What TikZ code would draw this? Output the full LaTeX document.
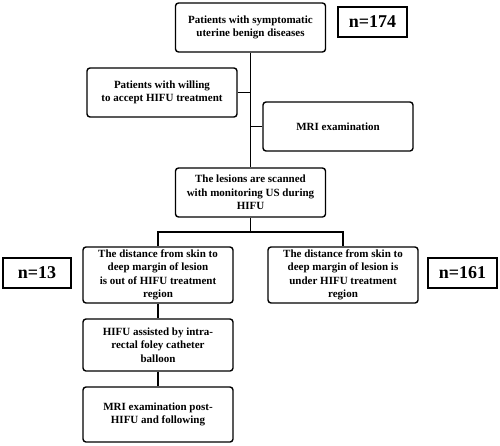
\documentclass[tikz,border=0pt]{standalone}
\usepackage{fontspec}
\setmainfont{Liberation Serif}
\begin{document}
\begin{tikzpicture}[x=1pt,y=-1pt,
  box/.style={draw, line width=1.4pt, rounded corners=3pt, minimum width=150pt, inner sep=1pt, align=center, font=\bfseries\fontsize{11}{13.5}\selectfont},
  nbox/.style={draw, line width=1.4pt, inner sep=0pt, font=\bfseries\fontsize{18}{20}\selectfont},
  link/.style={line width=1.4pt}]
\useasboundingbox (0,0) rectangle (500,445);
\node[box, minimum height=49pt] (b1) at (250.5,27.5) {Patients with symptomatic\\uterine benign diseases};
\node[nbox, minimum width=69pt, minimum height=30pt] (n174) at (372.5,22) {n=174};
\node[box, minimum height=49pt] (b2) at (162,92.5) {Patients with willing\\to accept HIFU treatment};
\node[box, minimum height=49pt] (mri) at (338,126.5) {MRI examination};
\node[box, minimum height=49pt] (les) at (250.5,192.5) {The lesions are scanned\\with monitoring US during\\HIFU};
\node[box, minimum height=56pt] (left) at (158,275) {The distance from skin to\\deep margin of lesion\\is out of HIFU treatment\\region};
\node[box, minimum height=56pt] (right) at (343,275) {The distance from skin to\\deep margin of lesion is\\under HIFU treatment\\region};
\node[nbox, minimum width=68pt, minimum height=30pt] (n13) at (37,273) {n=13};
\node[nbox, minimum width=69pt, minimum height=30pt] (n161) at (462.5,273) {n=161};
\node[box, minimum height=52pt] (hifu) at (158,345) {HIFU assisted by intra-\\rectal foley catheter\\balloon};
\node[box, minimum height=55pt] (post) at (158,414.5) {MRI examination post-\\HIFU and following};
\coordinate (split) at (250.5,232);
\draw[link] (b1.south) -- (les.north);
\draw[link] (b2.east) -- (b2.east -| b1.south);
\draw[link] (mri.west) -- (mri.west -| b1.south);
\draw[link] (les.south) -- (split);
\draw[link] (split) -| (left.north);
\draw[link] (split) -| (right.north);
\draw[link] (left.south) -- (hifu.north);
\draw[link] (hifu.south) -- (post.north);
\end{tikzpicture}
\end{document}
